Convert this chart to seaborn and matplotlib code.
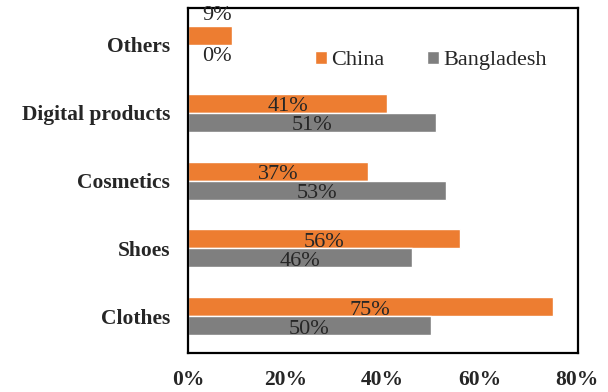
import matplotlib
matplotlib.use("Agg")
import matplotlib.pyplot as plt
import seaborn as sns
import pandas as pd

# Share of respondents by product category
categories = ["Others", "Digital products", "Cosmetics", "Shoes", "Clothes"]
china = [0.09, 0.41, 0.37, 0.56, 0.75]
bangladesh = [0.00, 0.51, 0.53, 0.46, 0.50]
series = ["China", "Bangladesh"]
xticks = [0.0, 0.2, 0.4, 0.6, 0.8]
xticklabels = ["0%", "20%", "40%", "60%", "80%"]

df = pd.DataFrame({
    "category": categories * 2,
    "country": [series[0]] * len(categories) + [series[1]] * len(categories),
    "share": china + bangladesh,
})

sns.set_theme(style="white")
plt.rcParams["font.family"] = ["Liberation Serif", "DejaVu Serif"]

fig = plt.figure(figsize=(6.08, 3.92), dpi=100)
ax = fig.add_axes([0.3092, 0.0995, 0.6414, 0.880])

palette = {"China": "#ED7D31", "Bangladesh": "#7F7F7F"}
sns.barplot(data=df, x="share", y="category", hue="country", order=categories,
            hue_order=series, palette=palette, orient="h", width=0.56, gap=0,
            saturation=1, ax=ax)

ax.set_xlim(0, 0.802)
ax.set_ylim(len(categories) - 0.46, -0.54)
ax.set_xticks(xticks)
ax.set_xticklabels(xticklabels, fontsize=15.5, fontweight="bold")
ax.tick_params(axis="x", length=0, pad=12)
ax.tick_params(axis="y", length=0, pad=13)
for lbl in ax.get_yticklabels():
    lbl.set_fontsize(15.5)
    lbl.set_fontweight("bold")
ax.set_xlabel("")
ax.set_ylabel("")

for sp in ax.spines.values():
    sp.set_visible(True)
    sp.set_color("black")
    sp.set_linewidth(1.6)

# Value labels centred on each bar; short bars get their label beside the bar
for ci, cont in enumerate(ax.containers):
    for bar in cont:
        w = bar.get_width()
        yc = bar.get_y() + bar.get_height() / 2
        x = max(w / 2, 0.06)
        if w < 0.15 and ci == 0:
            yc = bar.get_y() - 0.15
        elif w < 0.15:
            yc = yc + 0.04
        else:
            yc = yc + 0.05
        ax.text(x, yc, f"{w * 100:.0f}%", ha="center", va="center",
                fontsize=16, color="#262626")

leg = ax.legend(loc="upper right", bbox_to_anchor=(0.955, 0.915), ncol=2,
                frameon=False, fontsize=16, handlelength=0.55, handleheight=0.55,
                handletextpad=0.2, columnspacing=1.9, borderaxespad=0.2)

fig.savefig("out.png", dpi=100)
